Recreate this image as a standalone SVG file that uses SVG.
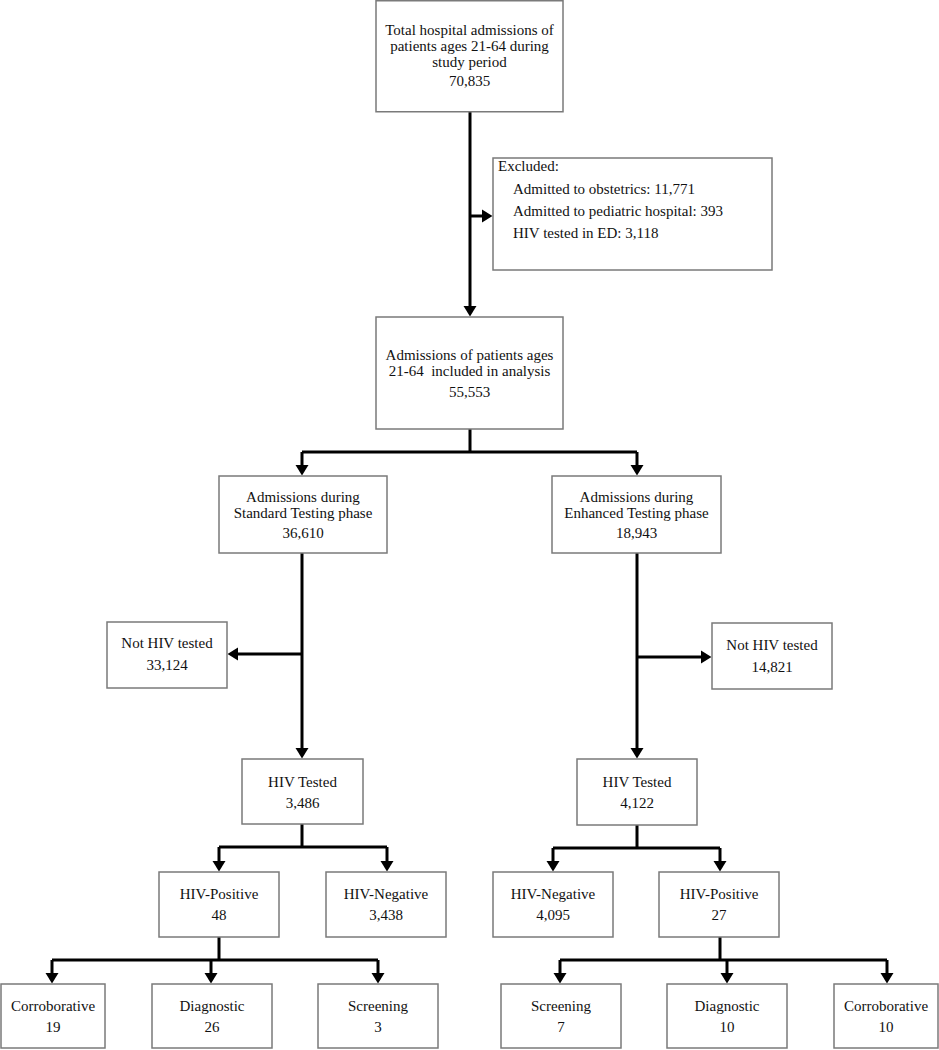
<svg xmlns="http://www.w3.org/2000/svg" width="939" height="1050" viewBox="0 0 939 1050">
<defs>
<style>
.box{fill:#fff;stroke:#7a7a7a;stroke-width:1.5}
.t{font-family:"Liberation Serif","Times New Roman",serif;font-size:15px;fill:#111;text-anchor:middle}
.tl{font-family:"Liberation Serif","Times New Roman",serif;font-size:15px;fill:#111}
.c{fill:none;stroke:#000;stroke-width:3}
</style>
<marker id="ah" markerUnits="userSpaceOnUse" markerWidth="11" markerHeight="14" refX="0" refY="7" orient="auto" viewBox="0 0 11 14">
<path d="M0,0.5 L10.5,7 L0,13.5 z" fill="#000"/>
</marker>
</defs>
<rect width="939" height="1050" fill="#fff"/>
<g id="connectors">
<path class="c" d="M470,112 V306" marker-end="url(#ah)"/>
<path class="c" d="M470,216 H482" marker-end="url(#ah)"/>
<path class="c" d="M470,429 V452 M302,452 H637"/>
<path class="c" d="M302,452 V465" marker-end="url(#ah)"/>
<path class="c" d="M637,452 V465" marker-end="url(#ah)"/>
<path class="c" d="M302,553 V748" marker-end="url(#ah)"/>
<path class="c" d="M302,654 H238" marker-end="url(#ah)"/>
<path class="c" d="M637,553 V748" marker-end="url(#ah)"/>
<path class="c" d="M637,657 H701" marker-end="url(#ah)"/>
<path class="c" d="M302,824 V847 M219,847 H387"/>
<path class="c" d="M219,847 V861" marker-end="url(#ah)"/>
<path class="c" d="M387,847 V861" marker-end="url(#ah)"/>
<path class="c" d="M637,825 V848 M553,848 H720"/>
<path class="c" d="M553,848 V861" marker-end="url(#ah)"/>
<path class="c" d="M720,848 V861" marker-end="url(#ah)"/>
<path class="c" d="M219,937 V960 M52,960 H378"/>
<path class="c" d="M52,960 V973" marker-end="url(#ah)"/>
<path class="c" d="M211,960 V973" marker-end="url(#ah)"/>
<path class="c" d="M378,960 V973" marker-end="url(#ah)"/>
<path class="c" d="M720,937 V960 M560,960 H887"/>
<path class="c" d="M560,960 V973" marker-end="url(#ah)"/>
<path class="c" d="M727,960 V973" marker-end="url(#ah)"/>
<path class="c" d="M887,960 V973" marker-end="url(#ah)"/>
</g>
<g id="n-total">
<rect class="box" x="376" y="0.75" width="187" height="111"/>
<text class="t" x="469.5" y="35">Total hospital admissions of</text>
<text class="t" x="469.5" y="51">patients ages 21-64 during</text>
<text class="t" x="469.5" y="67">study period</text>
<text class="t" x="469.5" y="86">70,835</text>
</g>
<g id="n-excluded">
<rect class="box" x="493" y="158" width="279" height="112"/>
<text class="tl" x="498" y="171">Excluded:</text>
<text class="tl" x="513" y="194">Admitted to obstetrics: 11,771</text>
<text class="tl" x="513" y="216">Admitted to pediatric hospital: 393</text>
<text class="tl" x="513" y="238">HIV tested in ED: 3,118</text>
</g>
<g id="n-included">
<rect class="box" x="376" y="317" width="187" height="112"/>
<text class="t" x="469.5" y="360">Admissions of patients ages</text>
<text class="t" x="469.5" y="376" xml:space="preserve">21-64  included in analysis</text>
<text class="t" x="469.5" y="397">55,553</text>
</g>
<g id="n-standard">
<rect class="box" x="219" y="476" width="168" height="77"/>
<text class="t" x="303" y="502">Admissions during</text>
<text class="t" x="303" y="518">Standard Testing phase</text>
<text class="t" x="303" y="538">36,610</text>
</g>
<g id="n-enhanced">
<rect class="box" x="552" y="476" width="169" height="77"/>
<text class="t" x="636.5" y="502">Admissions during</text>
<text class="t" x="636.5" y="518">Enhanced Testing phase</text>
<text class="t" x="636.5" y="538">18,943</text>
</g>
<g id="n-nottested-std">
<rect class="box" x="107" y="622" width="120" height="66"/>
<text class="t" x="167" y="648">Not HIV tested</text>
<text class="t" x="167" y="670">33,124</text>
</g>
<g id="n-nottested-enh">
<rect class="box" x="712" y="623" width="120" height="66"/>
<text class="t" x="772" y="650">Not HIV tested</text>
<text class="t" x="772" y="672">14,821</text>
</g>
<g id="n-tested-std">
<rect class="box" x="242" y="759" width="121" height="65"/>
<text class="t" x="302.5" y="787">HIV Tested</text>
<text class="t" x="302.5" y="808">3,486</text>
</g>
<g id="n-tested-enh">
<rect class="box" x="577" y="759" width="120" height="66"/>
<text class="t" x="637" y="787">HIV Tested</text>
<text class="t" x="637" y="808">4,122</text>
</g>
<g id="n-pos-std">
<rect class="box" x="159" y="872" width="120" height="65"/>
<text class="t" x="219" y="899">HIV-Positive</text>
<text class="t" x="219" y="920">48</text>
</g>
<g id="n-neg-std">
<rect class="box" x="326" y="872" width="120" height="65"/>
<text class="t" x="386" y="899">HIV-Negative</text>
<text class="t" x="386" y="920">3,438</text>
</g>
<g id="n-neg-enh">
<rect class="box" x="493" y="872" width="120" height="65"/>
<text class="t" x="553" y="899">HIV-Negative</text>
<text class="t" x="553" y="920">4,095</text>
</g>
<g id="n-pos-enh">
<rect class="box" x="659" y="872" width="120" height="65"/>
<text class="t" x="719" y="899">HIV-Positive</text>
<text class="t" x="719" y="920">27</text>
</g>
<g id="n-corr-std">
<rect class="box" x="1" y="984" width="104" height="64"/>
<text class="t" x="53" y="1011">Corroborative</text>
<text class="t" x="53" y="1032">19</text>
</g>
<g id="n-diag-std">
<rect class="box" x="152" y="984" width="120" height="64"/>
<text class="t" x="212" y="1011">Diagnostic</text>
<text class="t" x="212" y="1032">26</text>
</g>
<g id="n-scr-std">
<rect class="box" x="318" y="984" width="120" height="64"/>
<text class="t" x="378" y="1011">Screening</text>
<text class="t" x="378" y="1032">3</text>
</g>
<g id="n-scr-enh">
<rect class="box" x="501" y="984" width="120" height="64"/>
<text class="t" x="561" y="1011">Screening</text>
<text class="t" x="561" y="1032">7</text>
</g>
<g id="n-diag-enh">
<rect class="box" x="667" y="984" width="120" height="64"/>
<text class="t" x="727" y="1011">Diagnostic</text>
<text class="t" x="727" y="1032">10</text>
</g>
<g id="n-corr-enh">
<rect class="box" x="834" y="984" width="104" height="64"/>
<text class="t" x="886" y="1011">Corroborative</text>
<text class="t" x="886" y="1032">10</text>
</g>
</svg>
